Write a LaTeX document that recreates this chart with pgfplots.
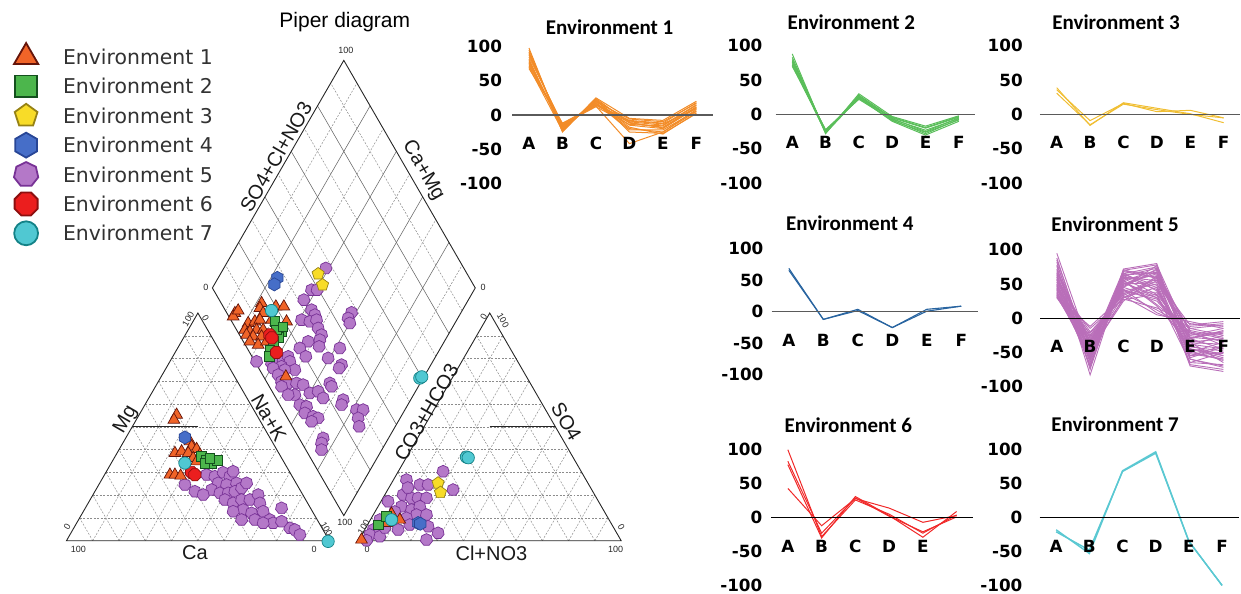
\documentclass[border=0pt]{standalone}
\usepackage{fontspec}
\setmainfont{Liberation Sans}
\newfontfamily\legfont{DejaVu Sans}
\newfontfamily\chartfont{Carlito}
\newfontfamily\tickfont{DejaVu Sans}
\usepackage{pgfplots}
\pgfplotsset{compat=1.18}
\usetikzlibrary{calc}

\definecolor{e1f}{RGB}{240,100,40}\definecolor{e1e}{RGB}{100,20,10}
\definecolor{e2f}{RGB}{76,182,76}\definecolor{e2e}{RGB}{20,80,30}
\definecolor{e3f}{RGB}{248,220,40}\definecolor{e3e}{RGB}{150,130,20}
\definecolor{e4f}{RGB}{70,110,200}\definecolor{e4e}{RGB}{40,70,150}
\definecolor{e5f}{RGB}{180,120,200}\definecolor{e5e}{RGB}{120,50,150}
\definecolor{e6f}{RGB}{235,30,30}\definecolor{e6e}{RGB}{140,15,15}
\definecolor{e7f}{RGB}{80,200,210}\definecolor{e7e}{RGB}{20,130,135}
\definecolor{l1}{RGB}{242,140,40}
\definecolor{l2}{RGB}{90,190,90}
\definecolor{l3}{RGB}{240,190,50}
\definecolor{l4}{RGB}{40,100,160}
\definecolor{l5}{RGB}{185,110,185}
\definecolor{l6}{RGB}{240,40,40}
\definecolor{l7}{RGB}{90,200,210}
\definecolor{legtext}{RGB}{50,50,50}
\definecolor{zgray}{RGB}{90,90,90}

\pgfdeclareplotmark{hexagon*}{%
 \pgfpathmoveto{\pgfpointpolar{90}{\pgfplotmarksize}}%
 \pgfpathlineto{\pgfpointpolar{150}{\pgfplotmarksize}}%
 \pgfpathlineto{\pgfpointpolar{210}{\pgfplotmarksize}}%
 \pgfpathlineto{\pgfpointpolar{270}{\pgfplotmarksize}}%
 \pgfpathlineto{\pgfpointpolar{330}{\pgfplotmarksize}}%
 \pgfpathlineto{\pgfpointpolar{30}{\pgfplotmarksize}}%
 \pgfpathclose\pgfusepathqfillstroke}
\pgfdeclareplotmark{heptagon*}{%
 \pgfpathmoveto{\pgfpointpolar{90}{\pgfplotmarksize}}%
 \pgfpathlineto{\pgfpointpolar{141.43}{\pgfplotmarksize}}%
 \pgfpathlineto{\pgfpointpolar{192.86}{\pgfplotmarksize}}%
 \pgfpathlineto{\pgfpointpolar{244.29}{\pgfplotmarksize}}%
 \pgfpathlineto{\pgfpointpolar{295.71}{\pgfplotmarksize}}%
 \pgfpathlineto{\pgfpointpolar{347.14}{\pgfplotmarksize}}%
 \pgfpathlineto{\pgfpointpolar{38.57}{\pgfplotmarksize}}%
 \pgfpathclose\pgfusepathqfillstroke}
\pgfdeclareplotmark{octagon*}{%
 \pgfpathmoveto{\pgfpointpolar{22.5}{\pgfplotmarksize}}%
 \pgfpathlineto{\pgfpointpolar{67.5}{\pgfplotmarksize}}%
 \pgfpathlineto{\pgfpointpolar{112.5}{\pgfplotmarksize}}%
 \pgfpathlineto{\pgfpointpolar{157.5}{\pgfplotmarksize}}%
 \pgfpathlineto{\pgfpointpolar{202.5}{\pgfplotmarksize}}%
 \pgfpathlineto{\pgfpointpolar{247.5}{\pgfplotmarksize}}%
 \pgfpathlineto{\pgfpointpolar{292.5}{\pgfplotmarksize}}%
 \pgfpathlineto{\pgfpointpolar{337.5}{\pgfplotmarksize}}%
 \pgfpathclose\pgfusepathqfillstroke}

\pgfplotsset{
  pmk/.style n args={4}{only marks, mark=#1, mark size=#4, mark options={draw=#2, fill=#3, line width=0.7bp, solid}, forget plot},
  lmk/.style n args={4}{only marks, mark=#1, mark options={draw=#2, fill=#3, line width=1.8bp, solid},
     legend image code/.code={\draw[##1, mark size=#4] plot coordinates {(12bp,0bp)}; \path[draw=none,fill=none] (0bp,-14.7bp) rectangle (49bp,14.7bp);}},
  envchart/.style={
    scale only axis, anchor=south west, xmin=-0.5, xmax=5.5, ymin=-100, ymax=100,
    axis on top,
    axis x line=middle, axis y line=left, axis line style={-},
    y axis line style={draw=none},
    x axis line style={line width=1.3bp},
    major tick length=0pt,
    xtick={0,...,5}, xticklabels={A,B,C,D,E,F},
    ytick={-100,-50,0,50,100}, yticklabels={-100,-50,0,50,100},
    hide obscured x ticks=false, hide obscured y ticks=false,
    yticklabel style={font=\tickfont\bfseries\fontsize{16.8bp}{18bp}\selectfont, text=black, anchor=east, inner sep=0pt},
    xticklabel style={font=\tickfont\bfseries\fontsize{16.8bp}{18bp}\selectfont, text=black, anchor=base, yshift=-34.5bp, inner sep=0pt},
    clip=false, no markers,
    every axis title/.style={font=\chartfont\bfseries\fontsize{21bp}{24bp}\selectfont, anchor=center, inner sep=0pt},
  },
}
\newcommand\envline[6]{\addplot coordinates {(0,#1)(1,#2)(2,#3)(3,#4)(4,#5)(5,#6)};}

\tikzset{
  gridd/.style={draw=black!45, line width=0.5bp, dash pattern=on 2bp off 1.5bp},
  gridsolid/.style={draw=black!60, line width=0.55bp},
  outl/.style={draw=black!85, line width=0.9bp},
  lab/.style={font=\fontsize{20bp}{22bp}\selectfont, text=black!90, inner sep=0pt},
  num/.style={font=\fontsize{9bp}{10bp}\selectfont, text=black!85, inner sep=0pt},
}

\begin{document}
\begin{tikzpicture}
\path (0,0) rectangle (1241bp,594bp);
\begin{scope}[x=1bp,y=-1bp,yshift=594bp]
\coordinate (cBL) at (66.5,541); \coordinate (cBR) at (329.5,541); \coordinate (cT) at (198,313.2);
\coordinate (aBL) at (358.5,541); \coordinate (aBR) at (621.5,541); \coordinate (aT) at (490,313.2);
\coordinate (dB) at (344,515.9); \coordinate (dL) at (212.5,288.1); \coordinate (dR) at (475.5,288.1); \coordinate (dT) at (344,60.4);
\foreach \k in {1,...,9}{
 \draw[gridd] ($(cBL)!\k/10!(cT)$) -- ($(cBR)!\k/10!(cT)$);
 \draw[gridd] ($(cBL)!\k/10!(cBR)$) -- ($(cT)!\k/10!(cBR)$);
 \draw[gridd] ($(cBR)!\k/10!(cBL)$) -- ($(cT)!\k/10!(cBL)$);
 \draw[gridd] ($(aBL)!\k/10!(aT)$) -- ($(aBR)!\k/10!(aT)$);
 \draw[gridd] ($(aBL)!\k/10!(aBR)$) -- ($(aT)!\k/10!(aBR)$);
 \draw[gridd] ($(aBR)!\k/10!(aBL)$) -- ($(aT)!\k/10!(aBL)$);
}
\foreach \k in {2,4,6,8}{
 \draw[gridsolid] ($(dB)!\k/10!(dL)$) -- ($(dR)!\k/10!(dT)$);
 \draw[gridsolid] ($(dB)!\k/10!(dR)$) -- ($(dL)!\k/10!(dT)$);
}
\foreach \k in {1,3,5,7,9}{
 \draw[gridd] ($(dB)!\k/10!(dL)$) -- ($(dR)!\k/10!(dT)$);
 \draw[gridd] ($(dB)!\k/10!(dR)$) -- ($(dL)!\k/10!(dT)$);
}
\draw[outl] (cBL) -- (cBR) -- (cT) -- cycle;
\draw[outl] (aBL) -- (aBR) -- (aT) -- cycle;
\draw[outl] (dB) -- (dR) -- (dT) -- (dL) -- cycle;
\draw[outl] (132.25,427.1) -- (198,427.1);
\draw[outl] (490,427.1) -- (555.75,427.1);
\node[font=\fontsize{21bp}{24bp}\selectfont, inner sep=0pt] at (345,22) {Piper diagram};
\node[lab, rotate=60] at (126,420) {Mg};
\node[lab] at (195,553) {Ca};
\node[lab, rotate=-60] at (269,418) {Na+K};
\node[lab, rotate=60] at (276,157) {SO4+Cl+NO3};
\node[lab, rotate=-60] at (423.3,170.7) {Ca+Mg};
\node[lab, rotate=60] at (426.7,412.7) {CO3+HCO3};
\node[lab, rotate=-60] at (566.7,421.7) {SO4};
\node[lab] at (491.7,553.3) {Cl+NO3};
\node[num] at (346,50.7) {100};
\node[num] at (206,287.3) {0};
\node[num] at (483.3,287.3) {0};
\node[num] at (345,523) {100};
\node[num, rotate=60] at (188.3,319.3) {100};
\node[num, rotate=-60] at (205.7,318.3) {0};
\node[num, rotate=60] at (67.3,527.3) {0};
\node[num] at (78.3,549.3) {100};
\node[num] at (314.3,549.3) {0};
\node[num, rotate=-60] at (326.7,529.3) {100};
\node[num, rotate=60] at (364,527.3) {100};
\node[num] at (367.3,549.3) {0};
\node[num] at (616,549.3) {100};
\node[num, rotate=-60] at (621.7,527.3) {0};
\node[num, rotate=60] at (484,316.7) {0};
\node[num, rotate=-60] at (503.3,320.7) {100};
\end{scope}

\begin{axis}[at={(0,0)}, anchor=south west, x=1bp, y=1bp, y dir=reverse,
  xmin=0, xmax=1241, ymin=0, ymax=594, hide axis, clip=false,
  legend cell align=left,
  legend style={at={(axis description cs:0.01128,0.92879)}, anchor=north west, draw=none, fill=none,
    inner sep=0pt, outer sep=0pt, row sep=0pt,
    font=\legfont\fontsize{20.4bp}{24bp}\selectfont,
    nodes={inner sep=0pt, text height=15bp, text depth=0pt, text=legtext}}]
% Environment 5 (drawn first, beneath)
\addplot[pmk={heptagon*}{e5e}{e5f}{6.2}] coordinates {
(206.7,475.0)(215.0,476.7)(223.3,472.7)(230.0,476.7)(233.3,471.7)(218.3,483.3)(226.7,485.0)(236.7,483.3)
(211.7,490.0)(220.0,493.3)(228.3,493.3)(235.0,491.7)(241.7,488.3)(246.7,483.3)(185.0,485.0)(195.0,491.7)
(203.3,495.0)(225.0,500.0)(233.3,503.3)(241.7,500.0)(250.0,500.0)(258.3,495.0)(260.0,503.3)(243.3,510.0)
(251.7,513.3)(263.3,511.7)(233.3,511.7)(255.0,520.0)(270.0,520.0)(273.3,523.3)(281.7,508.3)(290.0,528.3)
(295.0,530.0)(300.0,535.0)(281.7,521.7)(241.7,520.0)(263.3,523.3)
(326.0,268.3)(311.7,290.0)(317.3,290.0)(304.0,300.0)(311.7,310.0)(315.0,315.0)(301.7,320.0)(310.0,321.7)
(316.7,320.0)(351.7,312.7)(348.3,318.3)(350.0,323.3)(318.3,328.3)(321.7,335.0)(320.0,340.0)(308.3,341.7)
(300.0,348.3)(306.0,356.7)(319.3,346.7)(340.0,348.3)(328.3,358.3)(341.7,365.0)(339.3,368.3)(256.7,361.7)
(271.7,363.3)(276.7,358.3)(283.3,360.0)(288.3,356.7)(290.0,361.7)(281.7,366.7)(273.3,368.3)(295.0,370.0)
(285.0,370.0)(278.3,375.0)(281.7,381.7)(288.3,383.3)(296.7,383.3)(303.3,385.0)(310.0,393.3)(318.3,391.7)
(323.3,398.3)(295.0,395.0)(330.0,383.3)(331.7,386.7)(281.7,386.7)(288.3,395.0)(300.0,405.0)(306.7,406.7)
(305.0,413.3)(313.3,416.7)(318.3,418.3)(311.7,421.7)(343.3,400.0)(341.7,405.0)(356.7,410.0)(363.3,410.0)
(358.3,418.3)(359.3,426.7)(323.3,438.3)(321.7,443.3)(321.7,450.0)
(443.3,471.7)(406.7,480.0)(420.0,485.0)(428.3,485.0)(453.3,490.0)(403.3,495.0)(411.7,498.3)(418.3,498.3)
(426.7,498.3)(388.3,501.7)(401.7,506.7)(411.7,510.0)(420.0,506.7)(416.7,515.0)(426.7,515.0)(406.7,518.3)
(380.0,520.0)(428.3,526.7)(438.3,533.3)(426.7,540.0)(398.3,530.0)(373.3,530.0)(370.0,535.0)(380.0,536.7)
(366.7,540.7)(408.0,488.0)(395.0,512.0)(385.0,528.0)(410.0,525.0)};
% Environment 1
\addplot[pmk={triangle*}{e1e}{e1f}{6.8}] coordinates {
(176.7,415.0)(174.0,420.0)(190.0,441.7)(191.7,446.7)(196.7,449.3)(175.0,453.3)(181.7,451.7)(188.3,453.3)
(200.0,455.0)(193.3,458.3)(170.0,475.0)(175.0,475.0)(180.7,476.0)(196.7,461.7)
(261.7,303.3)(260.0,308.3)(263.3,313.3)(276.0,306.7)(284.0,306.7)(235.0,313.3)(233.3,316.7)(238.3,310.7)
(271.7,320.0)(286.7,321.7)(248.3,323.3)(255.0,321.7)(260.0,320.0)(245.0,330.0)(250.0,331.7)(256.7,330.0)
(263.3,330.0)(246.7,335.0)(253.3,336.7)(261.7,336.7)(250.0,341.7)(258.3,345.0)(266.7,341.7)(286.0,376.7)
(391.7,514.0)(386.7,523.3)(361.7,540.0)(400.0,520.0)};
% Environment 2
\addplot[pmk={square*}{e2e}{e2f}{4.9}] coordinates {
(201.7,456.7)(206.7,460.0)(211.7,463.3)(217.3,460.7)(205.0,463.3)(210.0,458.3)
(275.0,321.7)(281.7,331.7)(279.0,337.3)(273.3,341.7)(270.0,350.0)(269.3,356.7)(276.7,330.0)(283.0,327.0)
(378.3,525.0)(386.7,516.7)};
% Environment 3
\addplot[pmk={pentagon*}{e3e}{e3f}{6.4}] coordinates {
(318.3,274.0)(322.7,285.0)(438.3,483.3)(440.7,492.7)};
% Environment 4
\addplot[pmk={hexagon*}{e4e}{e4f}{6.6}] coordinates {
(185.0,437.7)(277.5,278.0)(274.5,284.5)(418.3,523.3)(420.5,524.0)};
% Environment 6
\addplot[pmk={octagon*}{e6e}{e6f}{6.6}] coordinates {
(191.7,472.7)(195.0,475.0)(270.0,335.0)(272.0,338.0)(276.7,352.7)};
% Environment 7
\addplot[pmk={*}{e7e}{e7f}{6.2}] coordinates {
(185.0,463.3)(328.3,541.7)(271.7,310.7)(420.0,378.3)(422.0,377.0)(466.7,457.3)(468.5,458.0)(391.7,520.0)};
\addlegendimage{lmk={triangle*}{e1e}{e1f}{14}}\addlegendentry{Environment 1}
\addlegendimage{lmk={square*}{e2e}{e2f}{11}}\addlegendentry{Environment 2}
\addlegendimage{lmk={pentagon*}{e3e}{e3f}{12}}\addlegendentry{Environment 3}
\addlegendimage{lmk={hexagon*}{e4e}{e4f}{12.5}}\addlegendentry{Environment 4}
\addlegendimage{lmk={heptagon*}{e5e}{e5f}{12.5}}\addlegendentry{Environment 5}
\addlegendimage{lmk={octagon*}{e6e}{e6f}{12.5}}\addlegendentry{Environment 6}
\addlegendimage{lmk={*}{e7e}{e7f}{12}}\addlegendentry{Environment 7}
\end{axis}

% Environment 1
\begin{axis}[envchart, at={(512.5bp,410.7bp)}, width=201bp, height=136.6bp,
  title={Environment 1}, title style={at={(0.485,1.144)}},
  yticklabel style={xshift=-10bp}, x axis line style={draw=zgray},
  cycle list={l1,line width=1bp\\}]
\envline{98}{-25}{25}{-5}{-8}{20}
\envline{95}{-22}{22}{-10}{-15}{15}
\envline{92}{-20}{20}{-15}{-20}{10}
\envline{90}{-18}{18}{-20}{-25}{5}
\envline{88}{-15}{15}{-8}{-12}{18}
\envline{85}{-13}{13}{-42}{-25}{8}
\envline{82}{-24}{24}{-12}{-18}{12}
\envline{80}{-21}{21}{-18}{-28}{3}
\envline{78}{-19}{19}{-6}{-10}{17}
\envline{76}{-17}{17}{-22}{-22}{6}
\envline{74}{-14}{12}{-14}{-16}{14}
\envline{72}{-16}{16}{-9}{-13}{9}
\envline{70}{-23}{23}{-25}{-27}{2}
\envline{68}{-12}{14}{-11}{-19}{11}
\end{axis}

% Environment 2
\begin{axis}[envchart, at={(776bp,410.7bp)}, width=200bp, height=137.6bp,
  title={Environment 2}, title style={at={(0.3785,1.174)}},
  yticklabel style={xshift=-13bp}, x axis line style={draw=zgray},
  cycle list={l2,line width=1bp\\}]
\envline{88}{-28}{30}{-3}{-17}{-2}
\envline{83}{-26}{28}{-5}{-20}{-4}
\envline{80}{-25}{27}{-7}{-23}{-6}
\envline{78}{-24}{25}{-9}{-26}{-8}
\envline{76}{-27}{24}{-10}{-30}{-10}
\envline{74}{-23}{23}{-4}{-19}{-3}
\envline{72}{-26}{26}{-6}{-25}{-5}
\envline{70}{-22}{22}{-8}{-28}{-7}
\end{axis}

% Environment 3
\begin{axis}[envchart, at={(1040.5bp,410.7bp)}, width=200.5bp, height=137.6bp,
  title={Environment 3}, title style={at={(0.380,1.174)}},
  yticklabel style={xshift=-17bp}, x axis line style={draw=zgray},
  cycle list={l3,line width=1bp\\}]
\envline{39}{-16}{17}{9}{1}{-12}
\envline{36}{-9}{16}{4}{6}{-5}
\envline{31}{-15}{15}{7}{0}{-5}
\end{axis}

% Environment 4
\begin{axis}[envchart, at={(772bp,219bp)}, width=207bp, height=126bp,
  title={Environment 4}, title style={at={(0.378,1.204)}},
  yticklabel style={xshift=-8bp}, x axis line style={draw=zgray},
  cycle list={l4,line width=1.1bp\\}]
\envline{69}{-12}{4}{-25}{4}{9}
\envline{66}{-12}{2}{-25}{1}{9}
\end{axis}

% Environment 5
\begin{axis}[envchart, at={(1040.7bp,207.3bp)}, width=200bp, height=136.7bp,
  title={Environment 5}, title style={at={(0.375,1.190)}},
  yticklabel style={xshift=-17bp}, x axis line style={draw=black},
  cycle list={l5,line width=0.9bp\\}]
\envline{95}{-45}{70}{78}{-30}{-20}
\envline{88}{-60}{65}{75}{-45}{-55}
\envline{82}{-75}{72}{80}{-60}{-70}
\envline{76}{-83}{68}{60}{-70}{-78}
\envline{72}{-50}{60}{55}{-25}{-15}
\envline{70}{-40}{55}{70}{-50}{-60}
\envline{68}{-35}{50}{65}{-20}{-30}
\envline{65}{-65}{62}{45}{-55}{-40}
\envline{63}{-55}{45}{72}{-35}{-65}
\envline{60}{-30}{40}{50}{-15}{-10}
\envline{58}{-70}{58}{35}{-65}{-50}
\envline{56}{-25}{35}{60}{-40}{-25}
\envline{55}{-45}{66}{40}{-30}{-45}
\envline{53}{-60}{52}{30}{-50}{-35}
\envline{52}{-20}{30}{55}{-10}{-5}
\envline{50}{-50}{48}{68}{-45}{-58}
\envline{48}{-38}{42}{25}{-25}{-20}
\envline{47}{-68}{64}{48}{-60}{-72}
\envline{45}{-28}{38}{38}{-35}{-30}
\envline{44}{-55}{56}{20}{-20}{-40}
\envline{42}{-42}{33}{58}{-55}{-50}
\envline{41}{-15}{28}{15}{-8}{-12}
\envline{40}{-62}{60}{42}{-48}{-62}
\envline{38}{-35}{45}{30}{-30}{-18}
\envline{37}{-48}{25}{62}{-40}{-55}
\envline{36}{-22}{36}{12}{-15}{-25}
\envline{35}{-58}{50}{52}{-65}{-68}
\envline{34}{-32}{40}{28}{-22}{-35}
\envline{33}{-45}{55}{18}{-38}{-45}
\envline{32}{-52}{30}{45}{-52}{-60}
\envline{31}{-26}{42}{8}{-12}{-8}
\envline{30}{-40}{27}{35}{-28}{-22}
\envline{30}{-12}{32}{5}{-5}{-15}
\envline{85}{-52}{69}{65}{-42}{-48}
\envline{78}{-48}{62}{73}{-36}{-38}
\envline{66}{-38}{58}{62}{-28}{-32}
\envline{61}{-72}{71}{58}{-68}{-75}
\envline{57}{-33}{46}{77}{-58}{-42}
\envline{49}{-57}{63}{67}{-18}{-28}
\envline{43}{-44}{52}{33}{-45}{-52}
\end{axis}

% Environment 6
\begin{axis}[envchart, at={(771.4bp,8.3bp)}, width=202.6bp, height=135.7bp,
  title={Environment 6}, title style={at={(0.3815,1.184)}},
  xtick={0,...,4}, xticklabels={A,B,C,D,E},
  yticklabel style={xshift=-8.5bp}, x axis line style={draw=black},
  cycle list={l6,line width=1bp\\}]
\envline{100}{-28}{26}{5}{-23}{4}
\envline{83}{-23}{29}{2}{-21}{1}
\envline{78}{-30}{31}{3}{-29}{9}
\envline{43}{-12}{28}{14}{-7}{3}
\end{axis}

% Environment 7
\begin{axis}[envchart, at={(1040.1bp,8.3bp)}, width=199.2bp, height=135.7bp,
  title={Environment 7}, title style={at={(0.3795,1.192)}},
  yticklabel style={xshift=-17bp}, x axis line style={draw=black},
  cycle list={l7,line width=1.4bp\\}]
\envline{-18}{-53}{69}{97}{-35}{-100}
\envline{-21}{-48}{68}{95}{-35}{-100}
\end{axis}
\end{tikzpicture}
\end{document}
